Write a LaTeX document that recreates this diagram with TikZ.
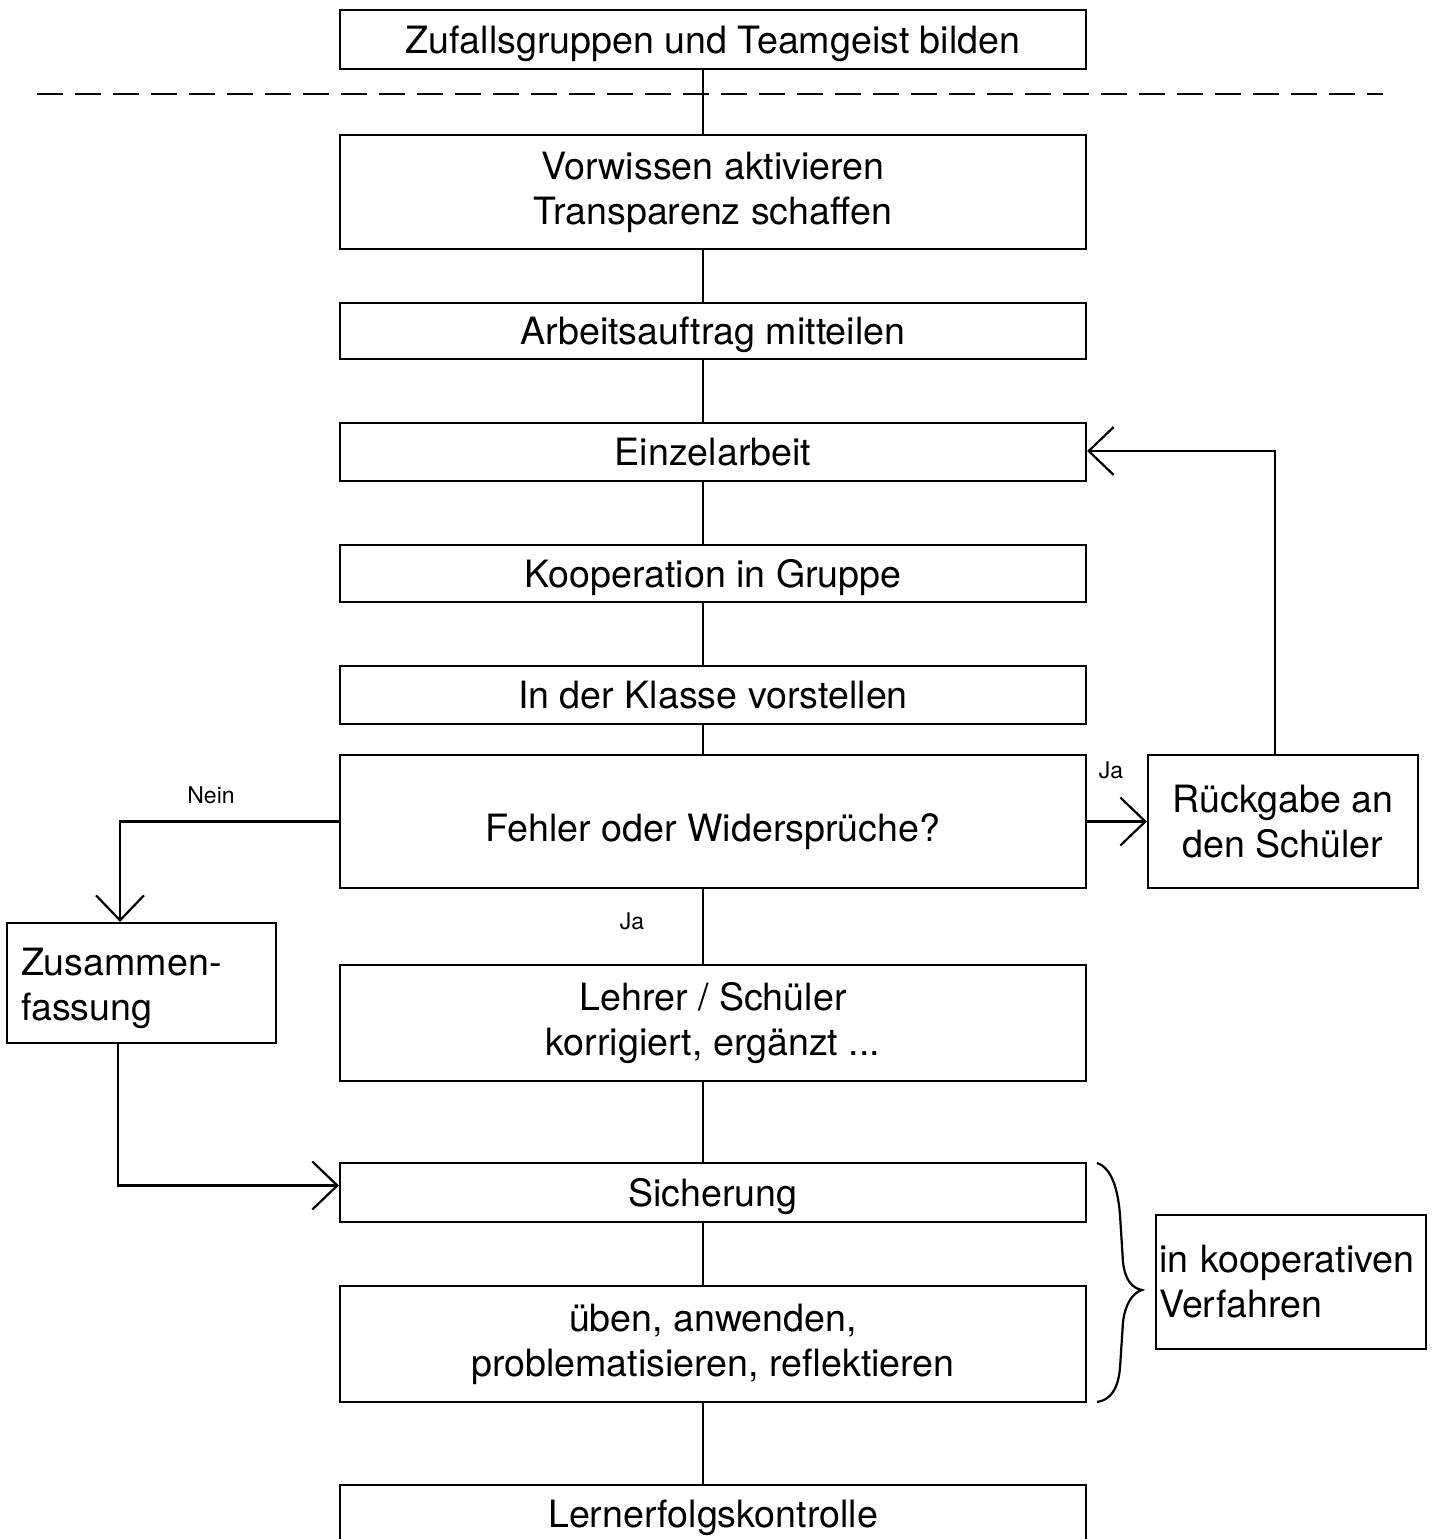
\documentclass[tikz,border=0pt]{standalone}
\usepackage{fontspec}
\setmainfont{TeX Gyre Heros}
\usetikzlibrary{arrows.meta,calc}
\begin{document}
\begin{tikzpicture}[x=0.5pt,y=-0.5pt,
  every node/.style={font=\fontsize{18.8}{22.5}\selectfont},
  box/.style={draw,line width=1.1pt,minimum width=373pt,inner sep=0pt,align=center},
  one/.style={text depth=0pt},
  conn/.style={line width=1.1pt},
  arr/.style={line width=1.1pt,-{Straight Barb[length=12.5pt,width=24pt]}},
  small/.style={font=\fontsize{11.5}{13}\selectfont,inner sep=0pt},
]
\useasboundingbox (0,0) rectangle (1434,1539);
\clip (0,0) rectangle (1434,1539);
% main column
\node[box,one,minimum height=29.5pt] (b1) at (713,39.5) {Zufallsgruppen und Teamgeist bilden};
\node[box,minimum height=57pt] (b2) at (713,192) {Vorwissen aktivieren\\Transparenz schaffen};
\node[box,one,minimum height=28pt] (b3) at (713,331) {Arbeitsauftrag mitteilen};
\node[box,one,minimum height=29pt] (b4) at (713,452) {Einzelarbeit};
\node[box,one,minimum height=28.5pt] (b5) at (713,573.5) {Kooperation in Gruppe};
\node[box,one,minimum height=29pt] (b6) at (713,695) {In der Klasse vorstellen};
\node[box,text height=19.5pt,text depth=0pt,minimum height=66.5pt] (b7) at (713,821.5) {Fehler oder Widersprüche?};
\node[box,minimum height=58pt] (b8) at (713,1023) {Lehrer / Schüler\\korrigiert, ergänzt ...};
\node[box,one,minimum height=29.5pt] (b9) at (713,1192.5) {Sicherung};
\node[box,minimum height=58pt] (b10) at (713,1344) {üben, anwenden,\\problematisieren, reflektieren};
\node[box,one,minimum height=29pt] (b11) at (713,1514) {Lernerfolgskontrolle};
% side boxes
\node[draw,line width=1.1pt,minimum width=135pt,minimum height=66.5pt,inner sep=0pt,align=center] (r) at (1283,821.5) {Rückgabe an\\den Schüler};
\node[draw,line width=1.1pt,minimum height=60pt,text width=120.5pt,text depth=21.5pt,inner xsep=7pt,inner ysep=0pt,align=left] (z) at (141.5,983) {Zusammen-\\fassung};
\node[draw,line width=1.1pt,minimum height=67pt,text width=132pt,inner xsep=1.5pt,inner ysep=0pt,align=left] (k) at (1291,1282) {in kooperativen\\Verfahren};
% dashed separator
\draw[line width=1.1pt,dash pattern=on 13pt off 6pt] (37,94) -- (1383,94);
% vertical connectors
\foreach \a/\b in {b1/b2,b2/b3,b3/b4,b4/b5,b5/b6,b6/b7,b7/b8,b8/b9,b9/b10,b10/b11}
  \draw[conn] ([xshift=-5pt]\a.south) -- ([xshift=-5pt]\b.north);
% branches
\draw[arr] (b7.east) -- (r.west);
\draw[arr] ([xshift=-4pt]r.north) |- ([yshift=0.5pt]b4.east);
\draw[arr] (b7.west) -| ([xshift=-10.75pt]z.north);
\draw[arr] ([xshift=-11.75pt]z.south) |- ([yshift=3.5pt]b9.west);
% labels
\node[small] (lja1) at (1111,770) {Ja};
\node[small] (lnein) at (211,795) {Nein};
\node[small] (lja2) at (632,921) {Ja};
% brace
\draw[conn] (1097,1163) .. controls (1112,1168) and (1118,1190) .. (1120,1215)
  -- (1123,1262) .. controls (1125,1280) and (1132,1288) .. (1142,1290)
  .. controls (1132,1293) and (1125,1305) .. (1123,1322)
  -- (1120,1368) .. controls (1118,1390) and (1110,1400) .. (1097,1402);
\end{tikzpicture}
\end{document}
